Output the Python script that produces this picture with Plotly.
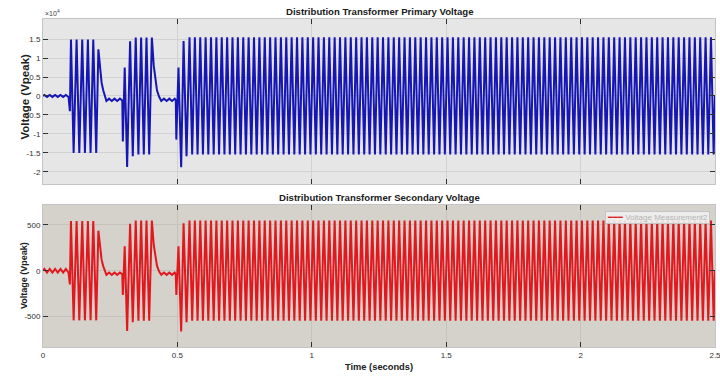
import numpy as np
import plotly.graph_objects as go

# ---------------- data (turning points of the waveforms) -------------
# transient part (0 - 0.54 s)
t_transient = [0.000, 0.005, 0.015, 0.025, 0.035, 0.045, 0.055, 0.065, 0.075, 0.085, 0.095,
               0.100, 0.104, 0.114, 0.125, 0.135, 0.146, 0.156, 0.167, 0.177, 0.187, 0.198,
               0.206, 0.212, 0.218, 0.224, 0.230, 0.236, 0.246, 0.256, 0.266, 0.276, 0.286,
               0.295, 0.297, 0.304, 0.313, 0.324, 0.334, 0.345, 0.355, 0.365, 0.375, 0.385,
               0.395, 0.405, 0.412, 0.418, 0.424, 0.432, 0.440, 0.450, 0.460, 0.470, 0.480,
               0.490, 0.494, 0.496, 0.504, 0.514, 0.523, 0.534]
primary_transient = [0, 250, -250, 250, -250, 250, -250, 250, -250, 250, -250,
                     -4000, 14900, -15000, 14900, -15000, 14900, -15000, 14900, -15000, 14900, -15000,
                     12300, 7000, 3500, 1500, -200, -1300, -700, -1300, -700, -1300, -700,
                     -1200, -12000, 7500, -18700, 14400, -15900, 15400, -15400, 15400, -15400, 15400,
                     -15400, 15400, 8000, 4000, 1500, -200, -1300, -700, -1300, -700, -1300,
                     -700, -1100, -11500, 7500, -18800, 14500, -15900]
secondary_transient = [0, 20, -20, 20, -20, 20, -20, 20, -20, 20, -20,
                       -150, 540, -540, 540, -540, 540, -540, 540, -540, 540, -540,
                       435, 250, 120, 50, -10, -45, -20, -45, -20, -45, -20,
                       -40, -265, 265, -655, 510, -560, 545, -545, 545, -545, 545,
                       -545, 545, 280, 140, 55, -10, -45, -20, -45, -20, -45,
                       -20, -40, -265, 265, -660, 515, -560]

# steady state (0.545 - 2.5 s): 50 Hz, one turning point every half cycle
steady_start, steady_half_period, steady_half_cycles = 0.545, 0.01, 196
primary_steady = [15500, -15400] * (steady_half_cycles // 2)
secondary_steady = [545, -545] * (steady_half_cycles // 2)
t_end, primary_end, secondary_end = 2.5, 0, 0

t_steady = list(steady_start + steady_half_period * np.arange(steady_half_cycles))
t_all = t_transient + t_steady + [t_end]
primary_all = primary_transient + primary_steady + [primary_end]
secondary_all = secondary_transient + secondary_steady + [secondary_end]

x_ticks = [0, 0.5, 1, 1.5, 2, 2.5]
x_ticktext = ["0", "0.5", "1", "1.5", "2", "2.5"]
y1_ticks = [-20000, -15000, -10000, -5000, 0, 5000, 10000, 15000]
y1_ticktext = ["-2", "-1.5", "-1", "-0.5", "0", "0.5", "1", "1.5"]
y2_ticks = [-500, 0, 500]
y2_ticktext = ["-500", "0", "500"]
legend_label = "Voltage Measurement2"

# ---------------- figure ----------------
BLUE = "rgb(22,22,180)"
RED = "rgb(226,24,30)"
FONT = "Liberation Sans, Arial, sans-serif"
TXT = "#202020"

fig = go.Figure()
fig.add_trace(go.Scatter(x=t_all, y=primary_all, mode="lines", line=dict(color=BLUE, width=2),
                         xaxis="x", yaxis="y", showlegend=False, name="Voltage Measurement1"))
fig.add_trace(go.Scatter(x=t_all, y=secondary_all, mode="lines", line=dict(color=RED, width=2),
                         xaxis="x2", yaxis="y2", showlegend=False, name=legend_label))

axis_common = dict(range=[0, 2.5], tickvals=x_ticks, ticks="inside", ticklen=5, tickcolor="#303030",
                   showline=True, linecolor="#c4c4c4", linewidth=1, mirror="ticks",
                   zeroline=False, automargin=False, ticklabeloverflow="allow",
                   tickfont=dict(size=8, color="#303030", family=FONT))
yaxis_common = dict(ticks="inside", ticklen=5, tickcolor="#303030", showline=True,
                    linecolor="#c4c4c4", mirror="ticks", zeroline=False, automargin=False,
                    tickfont=dict(size=8, color="#303030"))

fig.update_layout(
    width=720, height=376,
    margin=dict(l=43, r=5, t=19, b=29, autoexpand=False),
    paper_bgcolor="white",
    font=dict(family=FONT, size=8, color="#303030"),
    showlegend=False,
    xaxis=dict(domain=[0, 1], anchor="y", showticklabels=False, gridcolor="#d2d2d2", **axis_common),
    xaxis2=dict(domain=[0, 1], anchor="y2", showticklabels=True, ticktext=x_ticktext,
                gridcolor="#c6c3bc", **axis_common),
    yaxis=dict(domain=[0.497, 1.0], anchor="x", range=[-23200, 20300], tickvals=y1_ticks,
               ticktext=y1_ticktext, gridcolor="#d2d2d2", **yaxis_common),
    yaxis2=dict(domain=[0.0, 0.433], anchor="x2", range=[-830, 715], tickvals=y2_ticks,
                ticktext=y2_ticktext, gridcolor="#c6c3bc", **yaxis_common),
)

# plot-area backgrounds
fig.add_shape(type="rect", xref="x domain", yref="y domain", x0=0, x1=1, y0=0, y1=1,
              fillcolor="#e6e6e6", line=dict(width=0), layer="below")
fig.add_shape(type="rect", xref="x2 domain", yref="y2 domain", x0=0, x1=1, y0=0, y1=1,
              fillcolor="#d5d2cb", line=dict(width=0), layer="below")

fig.add_annotation(text="<b>Distribution Transformer Primary Voltage</b>", xref="x domain", yref="y domain",
                   x=0.5, y=1.0, yanchor="bottom", yshift=0, showarrow=False,
                   font=dict(size=9.6, color=TXT))
fig.add_annotation(text="<b>Distribution Transformer Secondary Voltage</b>", xref="x2 domain", yref="y2 domain",
                   x=0.5, y=1.0, yanchor="bottom", yshift=0, showarrow=False,
                   font=dict(size=9.6, color=TXT))
fig.add_annotation(text="×10<sup>4</sup>", xref="x domain", yref="y domain",
                   x=0.0, y=1.0, xanchor="left", yanchor="bottom", showarrow=False,
                   font=dict(size=7, color="#404040"))
fig.add_annotation(text="<b>Voltage (Vpeak)</b>", xref="paper", yref="y domain", x=0, xshift=-26,
                   y=0.53, textangle=-90, showarrow=False, font=dict(size=11.5, color=TXT))
fig.add_annotation(text="<b>Voltage (Vpeak)</b>", xref="paper", yref="y2 domain", x=0, xshift=-26,
                   y=0.5, textangle=-90, showarrow=False, font=dict(size=9, color=TXT))
fig.add_annotation(text="<b>Time (seconds)</b>", xref="x2 domain", yref="paper", x=0.5,
                   y=0, yshift=-20, yanchor="middle", showarrow=False, font=dict(size=9.3, color=TXT))

# legend box of the lower scope
fig.add_annotation(text="<span style='color:%s'>━━━</span> %s" % (RED, legend_label),
                   xref="x2 domain", yref="y2 domain", x=0.993, y=0.958, xanchor="right", yanchor="top",
                   showarrow=False, bgcolor="rgba(240,240,240,0.88)", bordercolor="#c4c4c4",
                   borderwidth=1, borderpad=1, font=dict(size=8, color="#b4b4b4"))

fig.write_html("out.html", post_script="document.body.style.margin='0';",
               config={"displayModeBar": False})
